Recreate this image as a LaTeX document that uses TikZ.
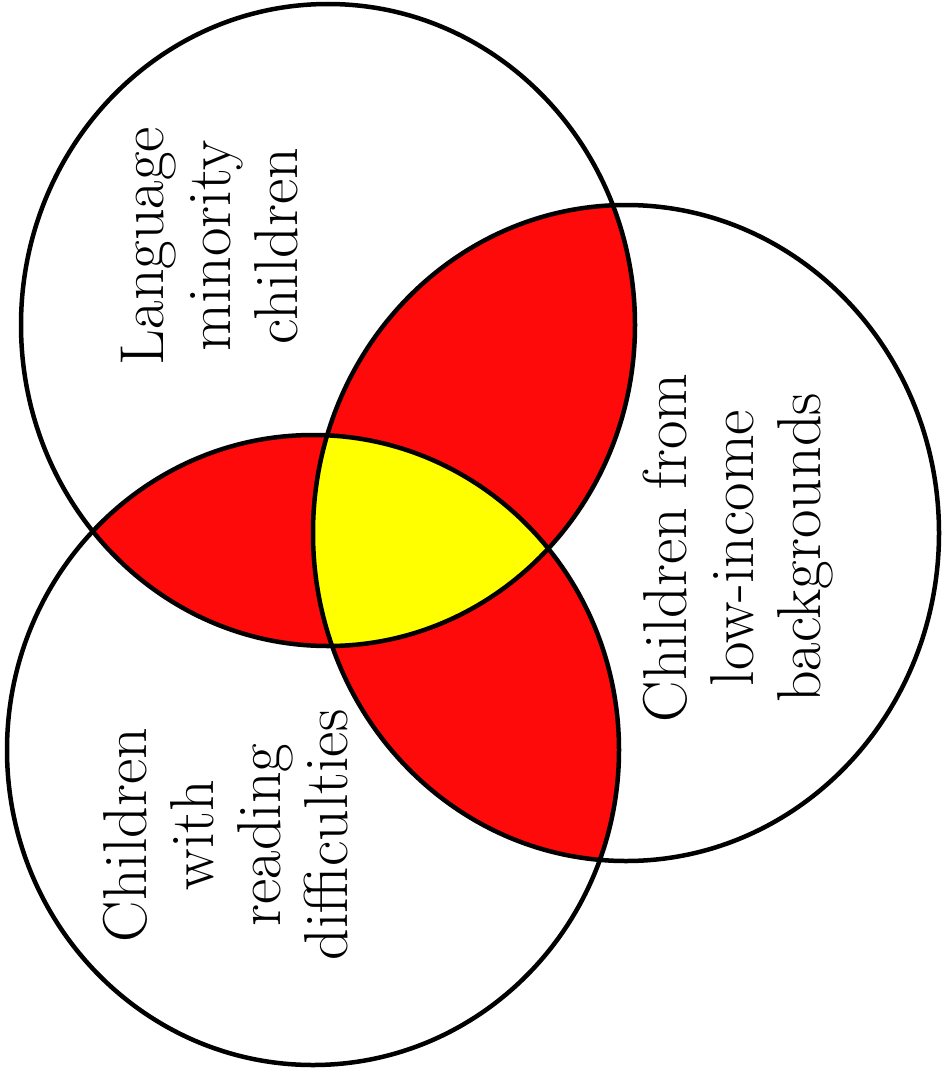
\documentclass[tikz,border=0pt]{standalone}
\definecolor{vred}{RGB}{255,10,10}
\definecolor{vyellow}{RGB}{255,255,0}
\begin{document}
\begin{tikzpicture}[x=1pt,y=-1pt,
  outline/.style={draw=black,line width=4.5pt},
  lbl/.style={rotate=90,align=center,font=\fontsize{62}{67}\selectfont,inner sep=0pt}]
\useasboundingbox (0,0) rectangle (944,1076);
\def\ellA{(328,325) ellipse [x radius=307pt, y radius=321pt]}
\def\ellB{(626,533) ellipse [x radius=313pt, y radius=328pt]}
\def\ellC{(313,750) ellipse [x radius=306pt, y radius=315pt]}
\fill[white] (0,0) rectangle (944,1076);
\begin{scope}\clip \ellA; \fill[vred] \ellB; \fill[vred] \ellC; \end{scope}
\begin{scope}\clip \ellB; \fill[vred] \ellC; \end{scope}
\begin{scope}\clip \ellA; \clip \ellB; \fill[vyellow] \ellC; \end{scope}
\draw[outline] \ellA;
\draw[outline] \ellB;
\draw[outline] \ellC;
\node[lbl] (lang) at (210,246) {Language\\minority\\children};
\node[lbl] (income) at (738,548) {Children from\\low-income\\backgrounds};
\node[lbl] (read) at (226,835) {Children\\with\\reading\\difficulties};
\end{tikzpicture}
\end{document}
